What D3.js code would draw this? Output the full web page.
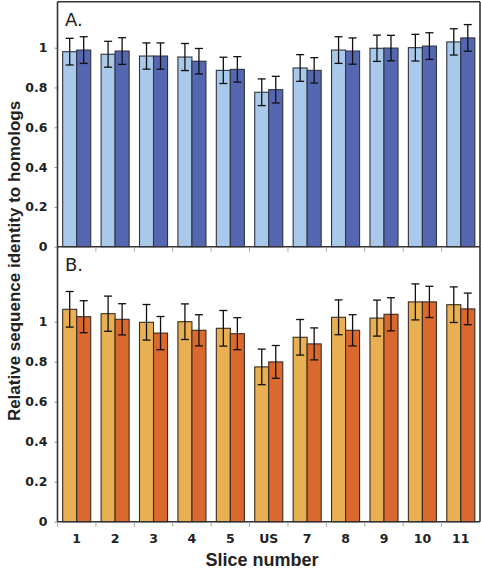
<!DOCTYPE html>
<html><head><meta charset="utf-8">
<script src="https://cdn.jsdelivr.net/npm/d3@7"></script>
<style>body{margin:0;background:#fff}svg{display:block}</style>
</head><body>
<svg id="c" width="481" height="569"></svg>
<script>
const categories = ["1","2","3","4","5","US","7","8","9","10","11"];
const yTicks = [0, 0.2, 0.4, 0.6, 0.8, 1];
const aLight = [0.98,0.967,0.958,0.953,0.886,0.776,0.898,0.988,0.997,1.0,1.029];
const aDark  = [0.988,0.983,0.958,0.932,0.891,0.789,0.886,0.983,0.998,1.008,1.049];
const aLightErr = [0.067,0.065,0.066,0.068,0.066,0.067,0.067,0.067,0.066,0.067,0.066];
const aDarkErr  = [0.067,0.067,0.066,0.064,0.064,0.067,0.064,0.066,0.064,0.067,0.067];
const bLight = [1.062,1.04,0.997,1.0,0.967,0.774,0.922,1.022,1.018,1.099,1.085];
const bDark  = [1.025,1.012,0.943,0.957,0.94,0.799,0.889,0.957,1.037,1.099,1.064];
const bLightErr = [0.089,0.088,0.089,0.089,0.089,0.089,0.089,0.087,0.09,0.09,0.089];
const bDarkErr  = [0.08,0.078,0.083,0.078,0.08,0.082,0.08,0.078,0.083,0.078,0.079];

const svg = d3.select("#c");
const left = 57.5, right = 480;
const x = d3.scaleBand().domain(categories).range([left, right]).paddingInner(0.27).paddingOuter(0.135);
const sub = d3.scaleBand().domain(["l","d"]).range([0, x.bandwidth()]);

const font = "'DejaVu Sans', Verdana, sans-serif";
const font2 = "'Liberation Sans', Arial, sans-serif";

function panel(top, bottom, yMax, light, dark, lErr, dErr, cLight, cDark, edge, label) {
  const y = d3.scaleLinear().domain([0, yMax]).range([bottom, top]);
  const g = svg.append("g");
  const ya = g.append("g").attr("transform", `translate(${left},0)`)
    .call(d3.axisLeft(y).tickValues(yTicks).tickFormat(d => d3.format("~g")(d)).tickSize(3).tickPadding(7));
  ya.select(".domain").remove();
  ya.selectAll("line").attr("stroke", "#999");
  ya.selectAll("text").attr("font-family", font).attr("font-weight", "bold").attr("font-size", 12.5).attr("fill", "#222");
  const series = [{k:"l", v:light, e:lErr, c:cLight}, {k:"d", v:dark, e:dErr, c:cDark}];
  series.forEach(s => {
    const gg = g.append("g");
    gg.selectAll("rect").data(categories).join("rect")
      .attr("x", (d) => x(d) + sub(s.k))
      .attr("width", sub.bandwidth())
      .attr("y", (d, i) => y(s.v[i]))
      .attr("height", (d, i) => y(0) - y(s.v[i]))
      .attr("fill", s.c).attr("stroke", edge).attr("stroke-width", 1.1);
    const eg = gg.selectAll("g.err").data(categories).join("g").attr("class", "err")
      .attr("transform", d => `translate(${x(d) + sub(s.k) + sub.bandwidth()/2},0)`);
    eg.append("line").attr("y1", (d,i) => y(s.v[i] + s.e[i])).attr("y2", (d,i) => y(s.v[i] - s.e[i]))
      .attr("stroke", "#111").attr("stroke-width", 1.3);
    eg.append("line").attr("x1", -4).attr("x2", 4).attr("y1", (d,i) => y(s.v[i] + s.e[i])).attr("y2", (d,i) => y(s.v[i] + s.e[i]))
      .attr("stroke", "#111").attr("stroke-width", 1.3);
    eg.append("line").attr("x1", -4).attr("x2", 4).attr("y1", (d,i) => y(s.v[i] - s.e[i])).attr("y2", (d,i) => y(s.v[i] - s.e[i]))
      .attr("stroke", "#111").attr("stroke-width", 1.3);
  });
  const bounds = categories.map(d => x(d) - x.step()*x.paddingInner()/2).slice(1);
  bounds.unshift(left);
  g.selectAll("line.ct").data(bounds).join("line").attr("class","ct")
    .attr("x1", d => d).attr("x2", d => d).attr("y1", bottom + 1).attr("y2", bottom + 5)
    .attr("stroke", "#aaa").attr("stroke-width", 1);
  g.append("line").attr("x1", left).attr("x2", right).attr("y1", bottom).attr("y2", bottom).attr("stroke", "#333").attr("stroke-width", 1.6);
  g.append("line").attr("x1", left).attr("x2", left).attr("y1", top).attr("y2", bottom).attr("stroke", "#333").attr("stroke-width", 1.6);
  g.append("line").attr("x1", right).attr("x2", right).attr("y1", top).attr("y2", bottom).attr("stroke", "#333").attr("stroke-width", 1.6);
  g.append("text").attr("x", 65).attr("y", top + 24).text(label)
    .attr("font-family", font).attr("font-size", 18).attr("fill", "#222");
  return y;
}

svg.append("line").attr("x1", left).attr("x2", right).attr("y1", 1.7).attr("y2", 1.7).attr("stroke", "#333").attr("stroke-width", 1.6);
panel(1.7, 246.7, 1.231, aLight, aDark, aLightErr, aDarkErr, "#a9c9ea", "#5567b0", "#2e3440", "A.");
panel(246.7, 521.7, 1.375, bLight, bDark, bLightErr, bDarkErr, "#e8b052", "#d9692e", "#3a2c20", "B.");

const xa = svg.append("g").attr("transform", "translate(0,521.7)")
  .call(d3.axisBottom(x).tickSize(0).tickPadding(12));
xa.select(".domain").remove();
xa.selectAll("text").attr("font-family", font).attr("font-weight", "bold").attr("font-size", 12.5).attr("fill", "#222");

svg.append("text").attr("x", 262).attr("y", 566).attr("text-anchor", "middle")
  .attr("font-family", font2).attr("font-weight", "bold").attr("font-size", 18).attr("fill", "#222")
  .text("Slice number");
svg.append("text").attr("transform", "translate(20,261) rotate(-90)").attr("text-anchor", "middle")
  .attr("font-family", font2).attr("font-weight", "bold").attr("font-size", 17).attr("fill", "#222")
  .text("Relative sequence identity to homologs");
</script>
</body></html>
